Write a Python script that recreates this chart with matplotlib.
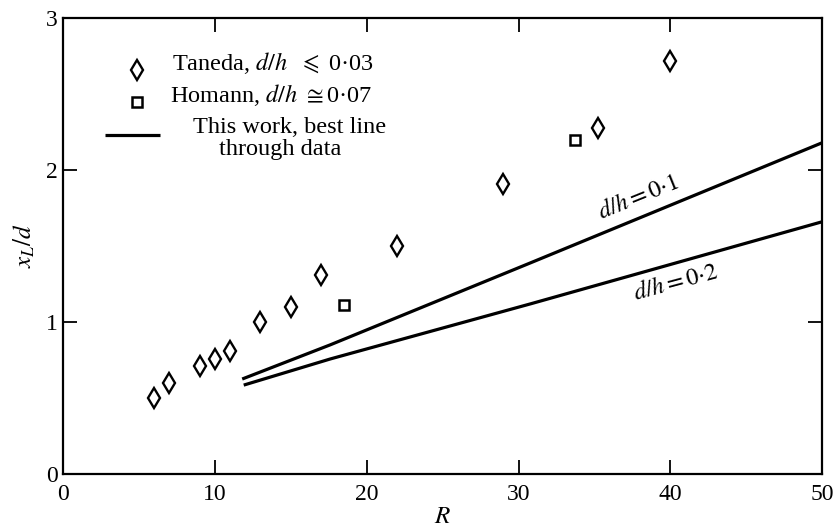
import matplotlib
matplotlib.use("Agg")
import matplotlib.pyplot as plt

# Taneda (d/h <= 0.03) - diamonds
taneda_R = [6, 7, 9, 10, 11, 13, 15, 17, 22, 29, 35.2, 40]
taneda_x = [0.5, 0.6, 0.71, 0.76, 0.81, 1.0, 1.1, 1.31, 1.5, 1.91, 2.28, 2.72]

# Homann (d/h ~ 0.07) - squares
homann_R = [18.5, 33.7]
homann_x = [1.11, 2.2]

# This work, best lines through data
line01_R = [11.8, 17.6, 30.8, 50]
line01_x = [0.625, 0.85, 1.39, 2.18]
line02_R = [11.9, 17.6, 30.8, 50]
line02_x = [0.585, 0.757, 1.12, 1.66]

x_ticks = [0, 10, 20, 30, 40, 50]
y_ticks = [0, 1, 2, 3]

plt.rcParams['font.family'] = ['Liberation Serif', 'DejaVu Serif']
plt.rcParams['mathtext.fontset'] = 'stix'

fig = plt.figure(figsize=(8.38, 5.32), dpi=100)
ax = fig.add_axes([0.0752, 0.109, 0.906, 0.857])

diamond_style = dict(linestyle='none', marker='d', markersize=10.5,
                     markerfacecolor='white', markeredgecolor='black',
                     markeredgewidth=1.7)
square_style = dict(linestyle='none', marker='s', markersize=7.5,
                    markerfacecolor='white', markeredgecolor='black',
                    markeredgewidth=1.8)

ax.plot(taneda_R, taneda_x, **diamond_style)
ax.plot(homann_R, homann_x, **square_style)
ax.plot(line01_R, line01_x, color='black', linewidth=2.3, solid_capstyle='butt')
ax.plot(line02_R, line02_x, color='black', linewidth=2.3, solid_capstyle='butt')

# curve labels
ax.text(37.9, 1.82, r'$d/h = 0{\cdot}1$', fontsize=17.5, rotation=22,
        ha='center', va='center')
ax.text(40.4, 1.26, r'$d/h = 0{\cdot}2$', fontsize=17.5, rotation=15,
        ha='center', va='center')

ax.set_xlim(0, 50)
ax.set_ylim(0, 3)
ax.set_xticks(x_ticks)
ax.set_yticks(y_ticks)
ax.tick_params(direction='in', length=10, width=1.3, top=True, right=True,
               labelsize=17)
ax.tick_params(axis='x', pad=7)
ax.tick_params(axis='y', pad=4)
for s in ax.spines.values():
    s.set_linewidth(1.6)

ax.set_xlabel(r'$R$', fontsize=18, labelpad=1)
ax.set_ylabel(r'$x_L/d$', fontsize=18, labelpad=6)

# hand-made legend, as in the original figure
ax.plot([0.0975], [0.886], transform=ax.transAxes, clip_on=False, **diamond_style)
ax.plot([0.0975], [0.816], transform=ax.transAxes, clip_on=False, **square_style)
ax.plot([0.0553, 0.1278], [0.743, 0.743], transform=ax.transAxes,
        color='black', linewidth=2.3, solid_capstyle='butt')
ax.text(0.1436, 0.901, r'Taneda, $d/h$  $\leqslant$ 0·03', transform=ax.transAxes,
        fontsize=17.5, ha='left', va='center')
ax.text(0.141, 0.831, r'Homann, $d/h$ $\cong$0·07', transform=ax.transAxes,
        fontsize=17.5, ha='left', va='center')
ax.text(0.299, 0.759, 'This work, best line', transform=ax.transAxes,
        fontsize=17.5, ha='center', va='center')
ax.text(0.286, 0.711, 'through data', transform=ax.transAxes,
        fontsize=17.5, ha='center', va='center')

fig.savefig('out.png', dpi=100)
